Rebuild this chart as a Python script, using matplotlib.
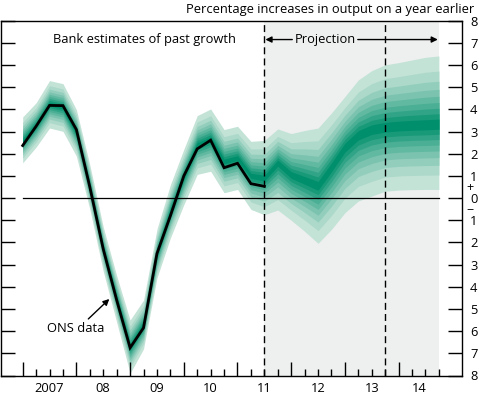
import matplotlib
matplotlib.use("Agg")
import matplotlib.pyplot as plt
import numpy as np

plt.rcParams["font.family"] = ["Open Sans", "DejaVu Sans"]

# quarterly positions, 2007 Q1 .. 2014 Q4
quarters = 2007 + np.arange(32) / 4

ons_growth = [2.37, 3.24, 4.18, 4.17, 3.09, 0.5, -2.3, -4.6, -6.75, -5.85,
              -2.5, -0.8, 1.0, 2.22, 2.61, 1.37, 1.57, 0.65, 0.53]

fan_mid = [2.55, 3.3, 4.25, 4.1, 2.95, 0.5, -2.3, -4.55, -6.7, -5.7,
           -2.5, -0.6, 1.0, 2.4, 2.65, 1.65, 1.8, 1.0, 0.9,
           1.6, 1.05, 0.8, 0.55, 1.4, 2.3, 2.85, 3.1, 3.2, 3.25, 3.28, 3.3, 3.33]
fan_hi = [3.66, 4.3, 5.3, 5.16, 3.99, 1.5, -1.3, -3.5, -5.5, -4.6,
          -1.4, 0.6, 2.2, 3.72, 4.02, 3.09, 3.24, 2.56, 2.6,
          3.12, 2.91, 3.05, 3.16, 3.84, 4.58, 5.33, 5.75, 6.01, 6.11, 6.23, 6.35, 6.41]
fan_lo = [1.59, 2.3, 3.16, 3.01, 1.89, -0.5, -3.3, -5.6, -7.9, -6.8,
          -3.6, -1.8, -0.3, 1.07, 1.21, 0.24, 0.39, -0.51, -0.75,
          -0.54, -1.0, -1.5, -2.04, -1.41, -0.66, -0.13, 0.09, 0.31, 0.36, 0.38, 0.39, 0.39]

# share of the 90% half-width covered by the 10%, 20%, ... 90% bands
band_frac = [0.0764, 0.154, 0.2342, 0.3188, 0.4101, 0.5117, 0.6301, 0.7791, 1.0]

year_labels = ["2007", "08", "09", "10", "11", "12", "13", "14"]
right_labels = ["8", "7", "6", "5", "4", "3", "2", "1", "0",
                "1", "2", "3", "4", "5", "6", "7", "8"]

proj_start = 2011.5
proj_marker = 2013.75

mid = np.array(fan_mid)
hi = np.array(fan_hi)
lo = np.array(fan_lo)

light = np.array([196, 227, 215]) / 255
dark = np.array([0, 143, 108]) / 255
colors = [tuple(light + (dark - light) * t) for t in np.linspace(0, 1, len(band_frac))]

fig = plt.figure(figsize=(4.79, 3.97), dpi=100)
ax = fig.add_axes([1 / 479, 1 - 375.5 / 397, 460.7 / 479, 354.8 / 397])

ax.set_xlim(2006.596, 2015.175)
ax.set_ylim(-8, 8)

ax.axvspan(proj_start, quarters[-1], color="#eeefef", lw=0, zorder=0)

for f, c in zip(band_frac[::-1], colors):
    ax.fill_between(quarters, mid - f * (mid - lo), mid + f * (hi - mid),
                    color=c, lw=0, zorder=1)

ax.plot([quarters[0], quarters[-1]], [0, 0], color="black", lw=0.9, zorder=3)
for xv in (proj_start, proj_marker):
    ax.axvline(xv, color="black", lw=1.0, ls=(0, (5, 3)), zorder=3)

ax.plot(quarters[:len(ons_growth)], ons_growth, color="black", lw=2.0,
        solid_joinstyle="miter", zorder=4)

# axes frame and ticks
for sp in ax.spines.values():
    sp.set_linewidth(1.0)
ax.set_yticks(np.arange(-8, 9))
ax.tick_params(axis="y", which="both", direction="in", length=10, width=1.0,
               left=True, right=True, labelleft=False, labelright=True,
               pad=6, labelsize=9.3)
ax.set_yticklabels(right_labels[::-1])
ax.set_xticks(np.arange(2007, 2015))
ax.set_xticks(quarters, minor=True)
ax.tick_params(axis="x", which="major", direction="in", length=10, width=1.0,
               labelbottom=False)
ax.tick_params(axis="x", which="minor", direction="in", length=5, width=1.0)

ax.text(1.0 + 8.5 / 460.7, 0.5 + 0.5 / 16, "+", transform=ax.transAxes,
        ha="center", va="center", fontsize=9)
ax.text(1.0 + 8.5 / 460.7, 0.5 - 0.5 / 16, "\u2212", transform=ax.transAxes,
        ha="center", va="center", fontsize=9)

for i, lab in enumerate(year_labels):
    yr = 2007 + i
    xc = (yr + min(yr + 1, quarters[-1])) / 2
    ax.text(xc, -8.57, lab, ha="center", va="center", fontsize=9.3)

fig.text(474 / 479, 1 - 10 / 397, "Percentage increases in output on a year earlier",
         ha="right", va="center", fontsize=9.3)
ax.text(2007.565, 7.13, "Bank estimates of past growth", ha="left", va="center",
        fontsize=9.3)
ax.text(2012.63, 7.15, "Projection", ha="center", va="center", fontsize=9.3)
ax.annotate("", xy=(proj_start + 0.02, 7.15), xytext=(2012.02, 7.15),
            arrowprops=dict(arrowstyle="-|>", color="black", lw=1.0,
                            mutation_scale=9, shrinkA=0, shrinkB=0))
ax.annotate("", xy=(quarters[-1] - 0.02, 7.15), xytext=(2013.24, 7.15),
            arrowprops=dict(arrowstyle="-|>", color="black", lw=1.0,
                            mutation_scale=9, shrinkA=0, shrinkB=0))
ax.text(2007.45, -5.87, "ONS data", ha="left", va="center", fontsize=9.3)
ax.annotate("", xy=(2008.613, -4.55), xytext=(2008.222, -5.45),
            arrowprops=dict(arrowstyle="-|>", color="black", lw=1.0,
                            mutation_scale=9, shrinkA=0, shrinkB=0))

fig.savefig("out.png", dpi=100)
